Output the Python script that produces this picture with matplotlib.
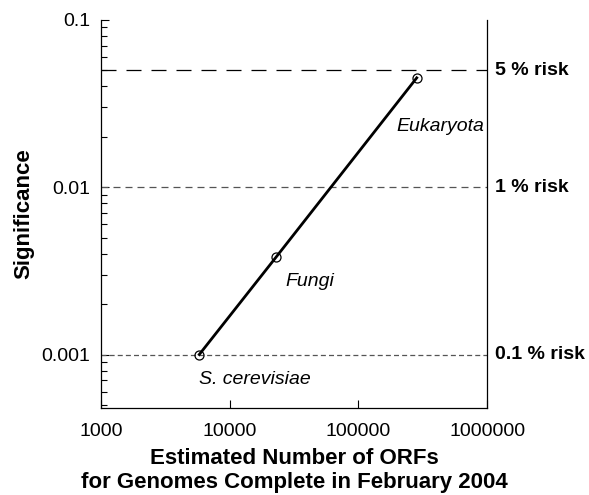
import matplotlib
matplotlib.use("Agg")
import matplotlib.pyplot as plt
from matplotlib.ticker import FixedLocator, FixedFormatter, LogLocator, NullFormatter, NullLocator

plt.rcParams["font.family"] = ["Liberation Sans", "DejaVu Sans"]

# Data
taxa = ["S. cerevisiae", "Fungi", "Eukaryota"]
orfs = [5800, 22800, 284000]
significance = [0.001, 0.0038, 0.045]

risk_levels = [0.05, 0.01, 0.001]
risk_labels = ["5 % risk", "1 % risk", "0.1 % risk"]

x_ticks = [1000, 10000, 100000, 1000000]
x_ticklabels = ["1000", "10000", "100000", "1000000"]
y_ticks = [0.001, 0.01, 0.1]
y_ticklabels = ["0.001", "0.01", "0.1"]

fig = plt.figure(figsize=(5.89, 4.95), dpi=100)
ax = fig.add_axes([0.1715, 0.176, 0.6555, 0.784])

ax.set_xscale("log")
ax.set_yscale("log")
ax.set_xlim(1000, 1000000)
ax.set_ylim(0.00048, 0.1)

# Risk threshold lines
styles = [
    dict(color="black", linewidth=0.9, dashes=(12, 8)),
    dict(color="#555555", linewidth=0.9, dashes=(5.6, 4)),
    dict(color="#555555", linewidth=0.9, dashes=(4, 2.5)),
]
for level, label, st in zip(risk_levels, risk_labels, styles):
    ax.axhline(level, **st)
    ax.annotate(label, xy=(1.0, level), xycoords=("axes fraction", "data"),
                xytext=(6, 0), textcoords="offset points",
                ha="left", va="center", fontsize=14, fontweight="bold")

# Main line with open circle markers
ax.plot(orfs, significance, color="black", linewidth=2.0, marker="o",
        markersize=6.5, markerfacecolor="none", markeredgecolor="black",
        markeredgewidth=0.9, zorder=3)

# Taxon labels (offsets in points, left-aligned text)
offsets = [(0, -18), (7, -17), (-15, -35)]
for name, x, y, off in zip(taxa, orfs, significance, offsets):
    ax.annotate(name, xy=(x, y), xytext=off, textcoords="offset points",
                ha="left", va="center", fontsize=14, fontstyle="italic")

# Axes / ticks
ax.xaxis.set_major_locator(FixedLocator(x_ticks))
ax.xaxis.set_major_formatter(FixedFormatter(x_ticklabels))
ax.xaxis.set_minor_locator(NullLocator())
ax.yaxis.set_major_locator(FixedLocator(y_ticks))
ax.yaxis.set_major_formatter(FixedFormatter(y_ticklabels))
ax.yaxis.set_minor_locator(LogLocator(base=10, subs=range(2, 10)))
ax.yaxis.set_minor_formatter(NullFormatter())

ax.tick_params(axis="both", which="both", direction="in", top=False, right=False,
               labelsize=14)
ax.tick_params(axis="x", which="major", length=6, width=0.8, pad=11)
ax.tick_params(axis="y", which="major", length=6, width=0.8, pad=8)
ax.tick_params(axis="y", which="minor", length=4, width=0.8)

for side in ["left", "bottom", "right", "top"]:
    ax.spines[side].set_linewidth(0.9)
ax.spines["top"].set_visible(False)

ax.set_ylabel("Significance", fontsize=16, fontweight="bold", labelpad=5)
ax.set_xlabel("Estimated Number of ORFs\nfor Genomes Complete in February 2004",
              fontsize=16, fontweight="bold", labelpad=6, linespacing=1.15)

fig.savefig("out.png", dpi=100)
